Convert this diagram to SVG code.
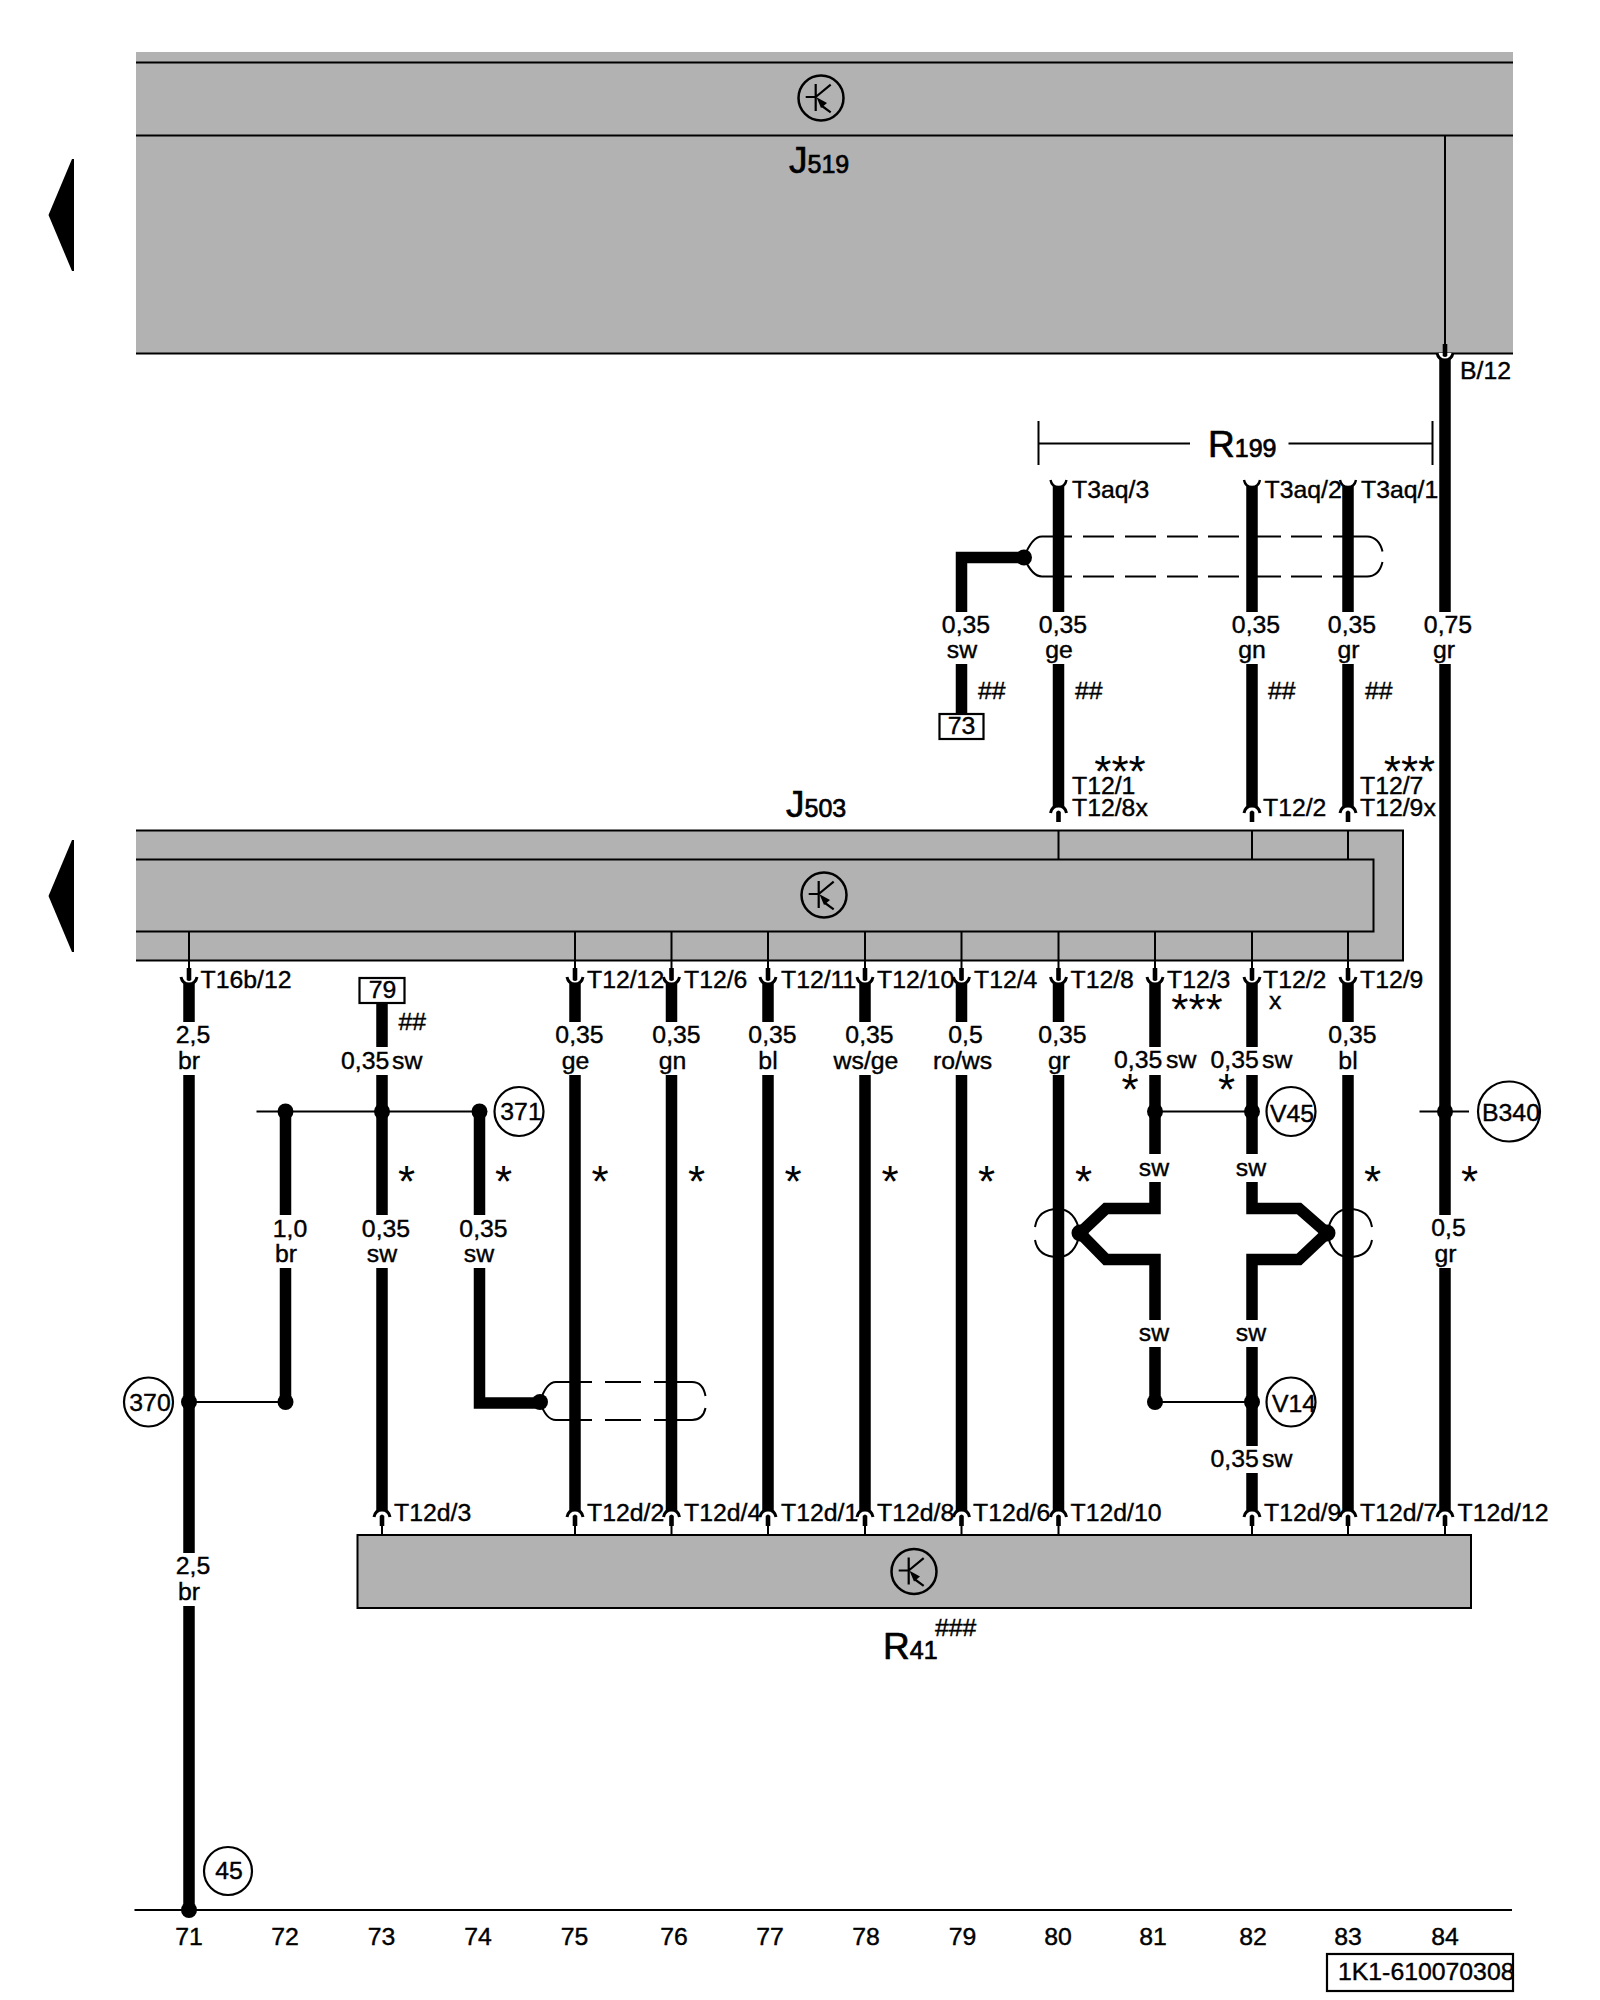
<svg xmlns="http://www.w3.org/2000/svg" xmlns:xlink="http://www.w3.org/1999/xlink" width="1600" height="2000" viewBox="0 0 1600 2000">
<style>
text{font-family:"Liberation Sans",Arial,sans-serif;fill:#000;stroke:#000;stroke-width:.4}
.t{font-size:24.8px}
.c{font-size:24.8px;text-anchor:middle}
.s{font-size:44px;text-anchor:middle;stroke-width:0}
.r{font-size:37px;stroke-width:.7}
.b{font-size:25px}
.band{fill:#b2b2b2;stroke:none}
.ln{fill:none;stroke:#000;stroke-width:2}
.w{fill:none;stroke:#000;stroke-width:11.500;stroke-linejoin:miter}
.d{fill:#000;stroke:none}
.o{fill:#fff;stroke:#000;stroke-width:2.200}
</style>
<defs>
<g id="tr"><circle r="22.500" fill="none" stroke="#000" stroke-width="2.500"/><path d="M-15.300,-1H-5.300M-5.300,-14V13M-5.300,-1L9.700,-13.300M1,8L9.700,14.300" fill="none" stroke="#000" stroke-width="2.200"/><path d="M-4.500,-.7L6,5L0,10Z" fill="#000"/></g>
<g id="cd"><path d="M-8,-6C-7,-1 -4,1 0,1C4,1 7,-1 8,-6" fill="#fff" stroke="#000" stroke-width="3"/><path d="M-2.300,-15H2.300V-3Q0,-1 -2.300,-3Z" fill="#000"/></g>
<g id="cu"><path d="M-8,6C-7,1 -4,-1 0,-1C4,-1 7,1 8,6" fill="#fff" stroke="#000" stroke-width="3"/><path d="M-2.300,5Q0,2 2.300,5V15H-2.300Z" fill="#000"/></g>
<g id="cy"><path d="M-8,0C-7,5 -4,7 0,7C4,7 7,5 8,0" fill="none" stroke="#000" stroke-width="2.400"/></g>
</defs>
<rect width="1600" height="2000" fill="#fff"/>
<g id="J519">
<rect class="band" x="136" y="52" width="1377" height="301"/>
<path class="ln" d="M136,62.500H1513M136,135.500H1513M136,353.500H1513"/>
<use href="#tr" x="821" y="98"/>
<text class="r" x="789" y="173">J<tspan class="b">519</tspan></text>
<path class="d" d="M48.500,215L72,159H74V271H72Z"/>
</g>
<g id="J503">
<rect class="band" x="136" y="830" width="1267" height="130"/>
<path class="ln" d="M136,830.500H1403V960.500H136M136,859.500H1373.500V931.500H136"/>
<use href="#tr" x="824" y="895"/>
<text class="r" x="786" y="817">J<tspan class="b">503</tspan></text>
<path class="d" d="M48.500,896L72,840H74V952H72Z"/>
</g>
<g id="R41">
<rect x="357.500" y="1535" width="1113.500" height="73" fill="#b2b2b2" stroke="#000" stroke-width="2"/>
<use href="#tr" x="914" y="1571.500"/>
<text class="r" x="883" y="1659">R<tspan class="b">41</tspan></text>
<text class="t" x="935" y="1636">###</text>
</g>
<g id="R199">
<path class="ln" d="M1038.500,421V465M1432.500,421V465M1038.500,443.500H1190M1288.500,443.500H1432.500"/>
<text class="r" x="1208" y="456.500">R<tspan class="b">199</tspan></text>
</g>
<g id="connectors">
<path class="ln" d="M1445,135V348M189,931V972M575,931V972M671.500,931V972M768,931V972M865,931V972M961.500,931V972M1058.500,931V972M1155,931V972M1252,931V972M1348,931V972M1058.500,830V859M1252,830V859M1348,830V859"/>
<path class="ln" d="M382,1522V1535M575,1522V1535M671.500,1522V1535M768,1522V1535M865,1522V1535M961.500,1522V1535M1058.500,1522V1535M1252,1522V1535M1348,1522V1535M1445,1522V1535"/>
<path class="w" d="M189,983V1022M189,1075V1553M189,1606V1908"/>
<path class="w" d="M285.500,1112V1215M285.500,1268V1402"/>
<path class="w" d="M382,1003V1047M382,1075V1215M382,1268V1511"/>
<path class="w" d="M479.500,1112V1215M479.500,1268V1403H540"/>
<path class="w" d="M575,983V1022M575,1075V1511M671.500,983V1022M671.500,1075V1511M768,983V1022M768,1075V1511M865,983V1022M865,1075V1511M961.500,983V1022M961.500,1075V1511M1058.500,983V1022M1058.500,1075V1511M1348,983V1022M1348,1075V1511"/>
<path class="w" d="M1155,982V1047M1155,1075V1154M1155,1182V1208.500H1106L1080,1233M1080,1233L1106,1259.500H1155V1320M1155,1347V1402"/>
<path class="w" d="M1252,982V1047M1252,1075V1154M1252,1182V1208.500H1299L1327,1233M1327,1233L1299,1259.500H1252V1320M1252,1347V1446M1252,1473V1510"/>
<path class="w" d="M1445,359V612M1445,664V1215M1445,1268V1511"/>
<path class="w" d="M1024,557.500H961.500V612M961.500,664V714"/>
<path class="w" d="M1058.500,486V612M1058.500,664V807M1252,486V612M1252,664V807M1348,486V612M1348,664V807"/>
<path class="ln" d="M256.500,1111.500H479M1155,1111.500H1252M1419.500,1111.500H1469M189,1402H285.500M1155,1402H1252"/>
<path class="ln" d="M134.500,1910H1512"/>
<g>
<use href="#cd" x="189" y="983"/><use href="#cd" x="575" y="983"/><use href="#cd" x="671.500" y="983"/><use href="#cd" x="768" y="983"/><use href="#cd" x="865" y="983"/><use href="#cd" x="961.500" y="983"/><use href="#cd" x="1058.500" y="983"/><use href="#cd" x="1155" y="983"/><use href="#cd" x="1252" y="983"/><use href="#cd" x="1348" y="983"/>
<use href="#cd" x="1445" y="359"/>
<use href="#cy" x="1058.500" y="480"/><use href="#cy" x="1252" y="480"/><use href="#cy" x="1348" y="480"/>
<use href="#cu" x="1058.500" y="807"/><use href="#cu" x="1252" y="807"/><use href="#cu" x="1348" y="807"/>
<use href="#cu" x="382" y="1511"/><use href="#cu" x="575" y="1511"/><use href="#cu" x="671.500" y="1511"/><use href="#cu" x="768" y="1511"/><use href="#cu" x="865" y="1511"/><use href="#cu" x="961.500" y="1511"/><use href="#cu" x="1058.500" y="1511"/><use href="#cu" x="1252" y="1511"/><use href="#cu" x="1348" y="1511"/><use href="#cu" x="1445" y="1511"/>
</g>
<g>
<circle class="d" cx="285.500" cy="1111.500" r="8"/><circle class="d" cx="382" cy="1111.500" r="8"/><circle class="d" cx="479.500" cy="1111.500" r="8"/>
<circle class="d" cx="1155" cy="1111.500" r="8"/><circle class="d" cx="1252" cy="1111.500" r="8"/><circle class="d" cx="1445" cy="1111.500" r="8"/>
<circle class="d" cx="189" cy="1402" r="8"/><circle class="d" cx="285.500" cy="1402" r="8"/><circle class="d" cx="1155" cy="1402" r="8"/><circle class="d" cx="1252" cy="1402" r="8"/>
<circle class="d" cx="189" cy="1910" r="8"/>
<circle class="d" cx="1024" cy="557.500" r="8"/><circle class="d" cx="540" cy="1402" r="8"/><circle class="d" cx="1080" cy="1233" r="8.500"/><circle class="d" cx="1327" cy="1233" r="8.500"/>
</g>
<g id="shields">
<path class="ln" d="M1024,557.500Q1032,536.500 1042,536.500H1072M1083,536.500H1114M1125,536.500H1156M1167,536.500H1198M1208,536.500H1239M1250,536.500H1281M1291,536.500H1322M1333,536.500H1367Q1379,537 1382.500,551.500M1382.500,562Q1379,576.500 1367,576.500H1333M1322,576.500H1291M1281,576.500H1250M1239,576.500H1208M1198,576.500H1167M1156,576.500H1125M1114,576.500H1083M1072,576.500H1042Q1032,576.500 1024,557.500"/>
<path class="ln" d="M540,1402Q546,1382 556,1382H592M605,1382H641M654,1382H692Q703,1382 705.500,1396M705.500,1408Q703,1420 692,1420H654M641,1420H605M592,1420H556Q546,1420 540,1402"/>
<path class="ln" d="M1080,1233Q1075,1209 1058,1209Q1038,1209 1035,1227M1035,1240Q1038,1257 1058,1257Q1075,1257 1080,1233"/>
<path class="ln" d="M1327,1233Q1332,1209 1349,1209Q1369,1209 1372,1227M1372,1240Q1369,1257 1349,1257Q1332,1257 1327,1233"/>
</g>
</g>
<g id="N73"><rect class="o" x="939.500" y="714" width="44" height="25"/><text class="c" x="961.500" y="734">73</text></g>
<g id="N79"><rect class="o" x="359.500" y="978" width="45" height="25"/><text class="c" x="382.500" y="998">79</text></g>
<g id="N370"><circle class="o" cx="148.500" cy="1402" r="24.500"/><text class="c" x="150" y="1410.500">370</text></g>
<g id="N371"><circle class="o" cx="519" cy="1111.500" r="24.500"/><text class="c" x="521" y="1120">371</text></g>
<g id="N45"><circle class="o" cx="228" cy="1871" r="24"/><text class="c" x="229" y="1879">45</text></g>
<g id="NV45"><circle class="o" cx="1291" cy="1111.500" r="24.500"/><text class="c" x="1292" y="1121.500">V45</text></g>
<g id="NV14"><circle class="o" cx="1291" cy="1402" r="24.500"/><text class="c" x="1294" y="1411.500">V14</text></g>
<g id="NB340"><ellipse class="o" cx="1509" cy="1111.500" rx="31" ry="30"/><text class="c" x="1511" y="1121">B340</text></g>
<g id="stamp"><rect class="o" x="1327" y="1954" width="186" height="37"/><text class="t" x="1338" y="1980">1K1-610070308</text></g>
<g id="labels">
<text class="t" x="1460" y="379">B/12</text>
<text class="t" x="1072" y="498">T3aq/3</text><text class="t" x="1264.500" y="498">T3aq/2</text><text class="t" x="1361" y="498">T3aq/1</text>
<text class="c" x="966" y="633">0,35</text><text class="c" x="962" y="658">sw</text>
<text class="c" x="1063" y="633">0,35</text><text class="c" x="1059" y="658">ge</text>
<text class="c" x="1256" y="633">0,35</text><text class="c" x="1252" y="658">gn</text>
<text class="c" x="1352" y="633">0,35</text><text class="c" x="1348.500" y="658">gr</text>
<text class="c" x="1448" y="633">0,75</text><text class="c" x="1444" y="658">gr</text>
<text class="t" x="978" y="699">##</text><text class="t" x="1075" y="699">##</text><text class="t" x="1268" y="699">##</text><text class="t" x="1365" y="699">##</text>
<text class="s" x="1120" y="787">***</text><text class="s" x="1409.500" y="787">***</text>
<text class="t" x="1072" y="794">T12/1</text><text class="t" x="1072" y="816">T12/8x</text><text class="t" x="1263" y="816">T12/2</text><text class="t" x="1360" y="794">T12/7</text><text class="t" x="1360" y="816">T12/9x</text>
<text class="t" x="200.500" y="987.500">T16b/12</text><text class="t" x="587" y="987.500">T12/12</text><text class="t" x="684" y="987.500">T12/6</text><text class="t" x="781" y="987.500">T12/11</text><text class="t" x="877" y="987.500">T12/10</text><text class="t" x="974" y="987.500">T12/4</text><text class="t" x="1070.500" y="987.500">T12/8</text><text class="t" x="1167" y="987.500">T12/3</text><text class="t" x="1263" y="987.500">T12/2</text><text class="t" x="1360" y="987.500">T12/9</text>
<text class="s" x="1197" y="1024.500">***</text><text class="t" x="1269" y="1009">x</text>
<text class="t" x="398.500" y="1030">##</text>
<text class="c" x="193" y="1043">2,5</text><text class="c" x="189" y="1069">br</text>
<text class="t" x="341" y="1069">0,35</text><text class="t" x="392" y="1069">sw</text>
<text class="c" x="579.500" y="1043">0,35</text><text class="c" x="575.500" y="1069">ge</text>
<text class="c" x="676.500" y="1043">0,35</text><text class="c" x="672.500" y="1069">gn</text>
<text class="c" x="772.500" y="1043">0,35</text><text class="c" x="768" y="1069">bl</text>
<text class="c" x="869.500" y="1043">0,35</text><text class="c" x="866" y="1069">ws/ge</text>
<text class="c" x="965.500" y="1043">0,5</text><text class="c" x="962.500" y="1069">ro/ws</text>
<text class="c" x="1062.500" y="1043">0,35</text><text class="c" x="1059" y="1069">gr</text>
<text class="t" x="1114" y="1068">0,35</text><text class="t" x="1166" y="1068">sw</text>
<text class="t" x="1210.500" y="1068">0,35</text><text class="t" x="1262" y="1068">sw</text>
<text class="c" x="1352.500" y="1043">0,35</text><text class="c" x="1348" y="1069">bl</text>
<text class="s" x="1130" y="1105">*</text><text class="s" x="1226.500" y="1105">*</text>
<text class="s" x="406.500" y="1197">*</text><text class="s" x="503.500" y="1197">*</text><text class="s" x="600" y="1197">*</text><text class="s" x="696.500" y="1197">*</text><text class="s" x="793" y="1197">*</text><text class="s" x="890" y="1197">*</text><text class="s" x="986.500" y="1197">*</text><text class="s" x="1083.500" y="1197">*</text><text class="s" x="1372.500" y="1197">*</text><text class="s" x="1469.500" y="1197">*</text>
<text class="c" x="1154" y="1176">sw</text><text class="c" x="1251" y="1176">sw</text>
<text class="c" x="290" y="1237">1,0</text><text class="c" x="286" y="1262">br</text>
<text class="c" x="386" y="1237">0,35</text><text class="c" x="382" y="1262">sw</text>
<text class="c" x="483.500" y="1237">0,35</text><text class="c" x="479" y="1262">sw</text>
<text class="c" x="1448.500" y="1236">0,5</text><text class="c" x="1445.500" y="1262">gr</text>
<text class="c" x="1154" y="1341">sw</text><text class="c" x="1251" y="1341">sw</text>
<text class="t" x="1210.500" y="1466.500">0,35</text><text class="t" x="1262" y="1466.500">sw</text>
<text class="t" x="394" y="1520.500">T12d/3</text><text class="t" x="587" y="1520.500">T12d/2</text><text class="t" x="684" y="1520.500">T12d/4</text><text class="t" x="781" y="1520.500">T12d/1</text><text class="t" x="877" y="1520.500">T12d/8</text><text class="t" x="973" y="1520.500">T12d/6</text><text class="t" x="1070.500" y="1520.500">T12d/10</text><text class="t" x="1264" y="1520.500">T12d/9</text><text class="t" x="1360" y="1520.500">T12d/7</text><text class="t" x="1457.500" y="1520.500">T12d/12</text>
<text class="c" x="193" y="1574">2,5</text><text class="c" x="189" y="1600">br</text>
<text class="c" x="189" y="1945">71</text><text class="c" x="285" y="1945">72</text><text class="c" x="381.500" y="1945">73</text><text class="c" x="478" y="1945">74</text><text class="c" x="574.500" y="1945">75</text><text class="c" x="674" y="1945">76</text><text class="c" x="770" y="1945">77</text><text class="c" x="866" y="1945">78</text><text class="c" x="962.500" y="1945">79</text><text class="c" x="1058" y="1945">80</text><text class="c" x="1153" y="1945">81</text><text class="c" x="1253" y="1945">82</text><text class="c" x="1348" y="1945">83</text><text class="c" x="1445" y="1945">84</text>
</g>
</svg>
